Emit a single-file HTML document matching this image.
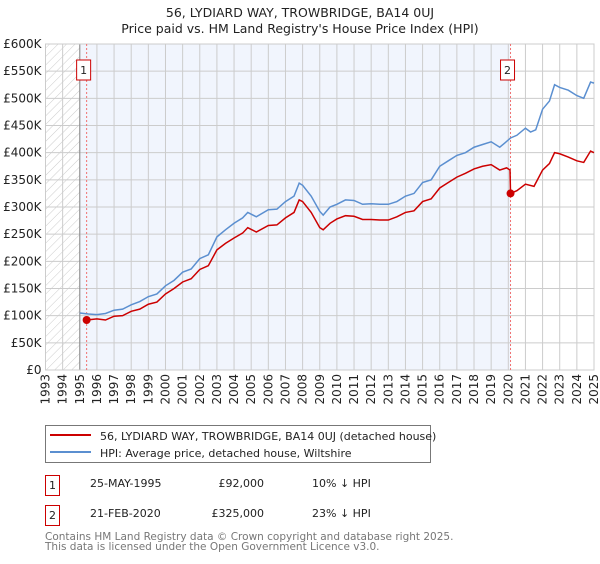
<!DOCTYPE html>
<html><head><meta charset="utf-8"><style>
body{margin:0;background:#fff;font-family:"DejaVu Sans","Liberation Sans",sans-serif;}
svg text{font-family:"DejaVu Sans","Liberation Sans",sans-serif;}
</style></head><body>
<svg id="chart" width="600" height="560" xmlns="http://www.w3.org/2000/svg">
<defs><pattern id="hatch" width="6" height="6" patternUnits="userSpaceOnUse" patternTransform="rotate(45)"><line x1="0" y1="0" x2="0" y2="6" stroke="#ccc" stroke-width="1"/></pattern></defs>
<text x="300" y="17" text-anchor="middle" font-size="12.5" fill="#222">56, LYDIARD WAY, TROWBRIDGE, BA14 0UJ</text>
<text x="300" y="33" text-anchor="middle" font-size="12.5" fill="#222">Price paid vs. HM Land Registry's House Price Index (HPI)</text>
<g id="plot"></g>
<g>
<rect x="45.5" y="425.5" width="385" height="37" fill="#fff" stroke="#777"/>
<line x1="50" y1="435" x2="91" y2="435" stroke="#cc0000" stroke-width="2"/>
<text x="100" y="440" font-size="11" fill="#222">56, LYDIARD WAY, TROWBRIDGE, BA14 0UJ (detached house)</text>
<line x1="50" y1="452" x2="91" y2="452" stroke="#5b8fd0" stroke-width="2"/>
<text x="100" y="457" font-size="11" fill="#222">HPI: Average price, detached house, Wiltshire</text>
</g>
<g font-size="11" fill="#222">
<rect x="45.5" y="475.5" width="14" height="20" fill="#fff" stroke="#cc0000"/>
<text x="52.5" y="489" text-anchor="middle">1</text>
<text x="90" y="487">25-MAY-1995</text>
<text x="264" y="487" text-anchor="end">£92,000</text>
<text x="312" y="487">10% ↓ HPI</text>
<rect x="45.5" y="505.5" width="14" height="20" fill="#fff" stroke="#cc0000"/>
<text x="52.5" y="519" text-anchor="middle">2</text>
<text x="90" y="517">21-FEB-2020</text>
<text x="264" y="517" text-anchor="end">£325,000</text>
<text x="312" y="517">23% ↓ HPI</text>
</g>
<text x="45" y="540" font-size="10.5" fill="#777">Contains HM Land Registry data © Crown copyright and database right 2025.</text>
<text x="45" y="550" font-size="10.5" fill="#777">This data is licensed under the Open Government Licence v3.0.</text>
</svg>
<script>
const hpiYears=[1995,1995.5,1996,1996.5,1997,1997.5,1998,1998.5,1999,1999.5,2000,2000.5,2001,2001.5,2002,2002.5,2003,2003.5,2004,2004.5,2004.8,2005.3,2006,2006.5,2007,2007.5,2007.8,2008,2008.5,2009,2009.2,2009.6,2010,2010.5,2011,2011.5,2012,2012.5,2013,2013.5,2014,2014.5,2015,2015.5,2016,2016.5,2017,2017.5,2018,2018.5,2019,2019.5,2019.8,2020.13,2020.5,2021,2021.3,2021.6,2022,2022.4,2022.7,2023,2023.5,2024,2024.4,2024.8,2025];
const hpiValues=[105,103,102,104,110,112,120,126,135,140,155,165,180,186,205,212,245,258,270,280,290,282,295,296,310,320,344,340,320,292,285,300,305,313,312,305,306,305,305,310,320,325,345,350,375,385,395,400,410,415,420,410,418,427,432,445,438,442,480,495,525,520,515,505,500,530,528];
const saleYears=[1995.4,1996,1996.5,1997,1997.5,1998,1998.5,1999,1999.5,2000,2000.5,2001,2001.5,2002,2002.5,2003,2003.5,2004,2004.5,2004.8,2005.3,2006,2006.5,2007,2007.5,2007.8,2008,2008.5,2009,2009.2,2009.6,2010,2010.5,2011,2011.5,2012,2012.5,2013,2013.5,2014,2014.5,2015,2015.5,2016,2016.5,2017,2017.5,2018,2018.5,2019,2019.5,2019.9,2020.1,2020.13,2020.5,2021,2021.5,2022,2022.4,2022.7,2023,2023.5,2024,2024.4,2024.8,2025];
const saleValues=[92,94,92,99,100,108,112,121,125,140,150,162,168,185,192,221,233,243,252,262,254,266,267,280,290,313,310,290,262,258,270,278,284,283,277,277,276,276,282,290,293,310,315,335,345,355,362,370,375,378,368,372,368,325,330,342,338,368,380,400,398,392,385,382,403,400];
const saleMarkers=[{year:1995.4,value:92,label:"1"},{year:2020.13,value:325,label:"2"}];
const yTicks=[0,50,100,150,200,250,300,350,400,450,500,550,600];
const yTickLabels=["£0","£50K","£100K","£150K","£200K","£250K","£300K","£350K","£400K","£450K","£500K","£550K","£600K"];
const xTicks=[1993,1994,1995,1996,1997,1998,1999,2000,2001,2002,2003,2004,2005,2006,2007,2008,2009,2010,2011,2012,2013,2014,2015,2016,2017,2018,2019,2020,2021,2022,2023,2024,2025];

const L=45.5,R=594,T=44,B=370,x0=1993,x1=2025,yMax=600;
const sx=v=>L+(v-x0)/(x1-x0)*(R-L);
const sy=v=>B-v/yMax*(B-T);
const NS="http://www.w3.org/2000/svg";
const g=document.getElementById('plot');
function mk(tag,attrs,parent){const e=document.createElementNS(NS,tag);for(const k in attrs)e.setAttribute(k,attrs[k]);(parent||g).appendChild(e);return e;}

let e=mk('rect',{x:sx(1995),y:T,width:sx(2020.13)-sx(1995),height:B-T,fill:'#eef3fc',opacity:0.8});


e=mk('rect',{x:L,y:T,width:sx(1995)-L,height:B-T,fill:'url(#hatch)'});


yTicks.forEach((v,i)=>{
 let l=mk('line',{x1:L,x2:R,y1:sy(v),y2:sy(v),stroke:'#ccc'});
 
 
 let t=mk('text',{x:L-4,y:sy(v)+4,'text-anchor':'end','font-size':12,fill:'#222'});
 t.textContent=yTickLabels[i];
 
 
});
xTicks.forEach(v=>{
 let l=mk('line',{x1:sx(v),x2:sx(v),y1:T,y2:B,stroke:'#ccc'});
 
 
 let t=mk('text',{x:0,y:0,'text-anchor':'end','font-size':12,fill:'#222',transform:`translate(${sx(v)+4},${B+4}) rotate(-90)`});
 t.textContent=v;
 
 
});
e=mk('line',{x1:sx(1995),x2:sx(1995),y1:T,y2:B,stroke:'#888'});


e=mk('rect',{x:L,y:T,width:R-L,height:B-T,fill:'none',stroke:'#ccc'});


saleMarkers.forEach(m=>{
 let l=mk('line',{x1:sx(m.year),x2:sx(m.year),y1:T,y2:B,stroke:'#f07070','stroke-dasharray':'2,2'});
 
 
 let r=mk('rect',{x:sx(m.year)-10,y:60,width:14,height:20,fill:'#fff',stroke:'#cc0000'});
 
 
 let t=mk('text',{x:sx(m.year)-3,y:74,'text-anchor':'middle','font-size':11,fill:'#222'});
 t.textContent=m.label;
 
 
});
e=mk('polyline',{points:hpiYears.map((y,i)=>sx(y)+','+sy(hpiValues[i])).join(' '),fill:'none',stroke:'#5b8fd0','stroke-width':1.5});


e=mk('polyline',{points:saleYears.map((y,i)=>sx(y)+','+sy(saleValues[i])).join(' '),fill:'none',stroke:'#cc0000','stroke-width':1.5});


saleMarkers.forEach(m=>{
 let c=mk('circle',{cx:sx(m.year),cy:sy(m.value),r:4,fill:'#cc0000'});
 
 
});
</script>
</body></html>
